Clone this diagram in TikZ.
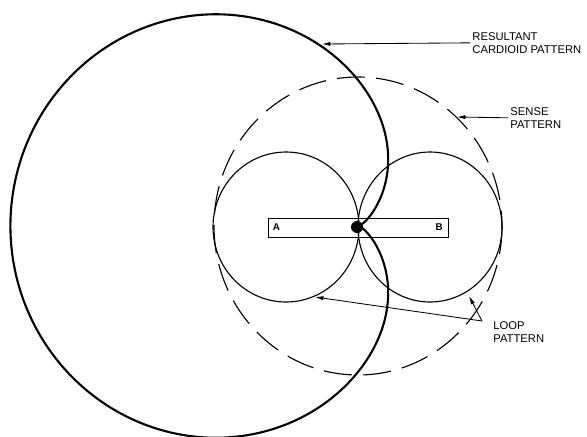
\documentclass[tikz,border=0pt]{standalone}
\usepackage{fontspec}
\setmainfont{Liberation Sans}
\usetikzlibrary{arrows.meta}

\begin{document}
\begin{tikzpicture}[
  x=0.025cm, y=-0.025cm,
  cardioid/.style={line width=1.5pt},
  loopcircle/.style={line width=0.8pt},
  sensecircle/.style={line width=0.8pt, dash pattern=on 20pt off 8pt},
  callout/.style={font=\fontsize{8}{9.2}\selectfont, align=left, inner sep=1.5pt},
  pointer/.style={line width=0.6pt, -{Latex[length=6pt, width=3pt]}},
]
  \useasboundingbox (0,0) rectangle (587,436);

  % Loop antenna bar
  \node (loopbar) [draw, line width=0.7pt, minimum width=4.475cm, minimum height=0.475cm, inner sep=0] at (358.5,227.5) {};
  \node (enda) [anchor=west, font=\fontsize{7}{8}\selectfont\bfseries, inner sep=3pt] at (loopbar.west) {A};
  \node (endb) [anchor=east, font=\fontsize{7}{8}\selectfont\bfseries, inner sep=4pt] at (loopbar.east) {B};

  % Patterns
  \draw[sensecircle] (358,226) ellipse [x radius=144, y radius=149];
  \draw[loopcircle] (286,227) ellipse [x radius=73, y radius=75];
  \draw[loopcircle] (430,227) ellipse [x radius=72, y radius=75];
  \draw[cardioid] plot[domain=0:360, samples=241, smooth, variable=\t]
    ({358+158*(1-cos(\t))*(cos(\t)-0.1-0.3*max(cos(\t),0)^4)}, {226-163*(1-cos(\t))*sin(\t)});
  \node (feed) [circle, fill, inner sep=0, minimum size=0.3cm] at (357,227) {};

  % Labels
  \node (resultant) [callout, anchor=north west] at (470,30) {RESULTANT\\CARDIOID PATTERN};
  \node (sense) [callout, anchor=north west] at (508,105) {SENSE\\PATTERN};
  \node (loop) [callout, anchor=north west] at (491,319) {LOOP\\PATTERN};

  \coordinate (cardtip) at (322,44);
  \coordinate (sensetip) at (457,117);
  \coordinate (loopapex) at (482,321);
  \coordinate (lefttip) at (315,297);
  \coordinate (righttip) at (469,296);

  \draw[pointer] (resultant.west) -- (cardtip);
  \draw[pointer] (sense.west) -- (sensetip);
  \draw[pointer] (loopapex) -- (lefttip);
  \draw[pointer] (loopapex) -- (righttip);
\end{tikzpicture}
\end{document}
